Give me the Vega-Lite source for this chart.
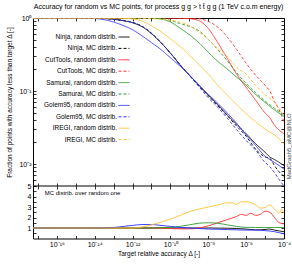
{
"$schema": "https://vega.github.io/schema/vega-lite/v6.json",
"background": "white",
"autosize": {"type": "none"},
"width": 251,
"height": 220.5,
"padding": {"left": 33, "top": 18, "right": 8, "bottom": 26.5},
"config": {
  "font": "Liberation Sans",
  "view": {"stroke": "black", "strokeWidth": 1},
  "axis": {"labelFontSize": 7, "titleFontSize": 6.5, "titleFontWeight": "normal", "titleColor": "black", "labelColor": "black", "tickColor": "black", "domainColor": "black", "grid": false, "tickSize": -3, "tickWidth": 0.8, "labelPadding": 5, "labelOverlap": false, "labelFlush": false, "domain": false}
},
"title": {"text": "Accuracy for random vs MC points, for process g g > t t̄ g g (1 TeV c.o.m energy)", "fontSize": 7, "fontWeight": "normal", "color": "black", "offset": 4},
"datasets": {
  "top": [
    {"s":"Ninja, random distrib.","x":5.5e-18,"y":1},{"s":"Ninja, random distrib.","x":1e-14,"y":1},{"s":"Ninja, random distrib.","x":1e-13,"y":0.96},{"s":"Ninja, random distrib.","x":3.16e-13,"y":0.92},{"s":"Ninja, random distrib.","x":1e-12,"y":0.86},{"s":"Ninja, random distrib.","x":3.16e-12,"y":0.76},{"s":"Ninja, random distrib.","x":1e-11,"y":0.61},{"s":"Ninja, random distrib.","x":3.16e-11,"y":0.46},{"s":"Ninja, random distrib.","x":1e-10,"y":0.33},{"s":"Ninja, random distrib.","x":3.16e-10,"y":0.23},{"s":"Ninja, random distrib.","x":1e-9,"y":0.165},{"s":"Ninja, random distrib.","x":3.16e-9,"y":0.12},{"s":"Ninja, random distrib.","x":1e-8,"y":0.088},{"s":"Ninja, random distrib.","x":3.16e-8,"y":0.065},{"s":"Ninja, random distrib.","x":1e-7,"y":0.047},{"s":"Ninja, random distrib.","x":3.16e-7,"y":0.035},{"s":"Ninja, random distrib.","x":1e-6,"y":0.026},{"s":"Ninja, random distrib.","x":3.16e-6,"y":0.019},{"s":"Ninja, random distrib.","x":1e-5,"y":0.0145},{"s":"Ninja, random distrib.","x":1.78e-5,"y":0.0125},{"s":"Ninja, random distrib.","x":3.16e-5,"y":0.0115},{"s":"Ninja, random distrib.","x":5.6e-5,"y":0.0105},{"s":"Ninja, random distrib.","x":1e-4,"y":0.0095},
    {"s":"Ninja, MC distrib.","x":5.5e-18,"y":1},{"s":"Ninja, MC distrib.","x":1e-14,"y":1},{"s":"Ninja, MC distrib.","x":1e-13,"y":0.96},{"s":"Ninja, MC distrib.","x":3.16e-13,"y":0.93},{"s":"Ninja, MC distrib.","x":1e-12,"y":0.87},{"s":"Ninja, MC distrib.","x":3.16e-12,"y":0.77},{"s":"Ninja, MC distrib.","x":1e-11,"y":0.62},{"s":"Ninja, MC distrib.","x":3.16e-11,"y":0.46},{"s":"Ninja, MC distrib.","x":1e-10,"y":0.33},{"s":"Ninja, MC distrib.","x":3.16e-10,"y":0.23},{"s":"Ninja, MC distrib.","x":1e-9,"y":0.163},{"s":"Ninja, MC distrib.","x":3.16e-9,"y":0.118},{"s":"Ninja, MC distrib.","x":1e-8,"y":0.086},{"s":"Ninja, MC distrib.","x":3.16e-8,"y":0.063},{"s":"Ninja, MC distrib.","x":1e-7,"y":0.046},{"s":"Ninja, MC distrib.","x":3.16e-7,"y":0.033},{"s":"Ninja, MC distrib.","x":1e-6,"y":0.024},{"s":"Ninja, MC distrib.","x":3.16e-6,"y":0.016},{"s":"Ninja, MC distrib.","x":1e-5,"y":0.0125},{"s":"Ninja, MC distrib.","x":1.78e-5,"y":0.012},{"s":"Ninja, MC distrib.","x":3.16e-5,"y":0.0095},{"s":"Ninja, MC distrib.","x":5.6e-5,"y":0.0078},{"s":"Ninja, MC distrib.","x":1e-4,"y":0.0068},
    {"s":"CutTools, random distrib.","x":5.5e-18,"y":1},{"s":"CutTools, random distrib.","x":1e-10,"y":1},{"s":"CutTools, random distrib.","x":3.16e-10,"y":0.995},{"s":"CutTools, random distrib.","x":1e-9,"y":0.98},{"s":"CutTools, random distrib.","x":3.16e-9,"y":0.92},{"s":"CutTools, random distrib.","x":1e-8,"y":0.72},{"s":"CutTools, random distrib.","x":3.16e-8,"y":0.46},{"s":"CutTools, random distrib.","x":1e-7,"y":0.28},{"s":"CutTools, random distrib.","x":3.16e-7,"y":0.17},{"s":"CutTools, random distrib.","x":1e-6,"y":0.112},{"s":"CutTools, random distrib.","x":3.16e-6,"y":0.075},{"s":"CutTools, random distrib.","x":1e-5,"y":0.05},{"s":"CutTools, random distrib.","x":1.78e-5,"y":0.043},{"s":"CutTools, random distrib.","x":3.16e-5,"y":0.034},{"s":"CutTools, random distrib.","x":5.6e-5,"y":0.029},{"s":"CutTools, random distrib.","x":1e-4,"y":0.026},
    {"s":"CutTools, MC distrib.","x":5.5e-18,"y":1},{"s":"CutTools, MC distrib.","x":1e-9,"y":1},{"s":"CutTools, MC distrib.","x":3.16e-9,"y":0.98},{"s":"CutTools, MC distrib.","x":1e-8,"y":0.9},{"s":"CutTools, MC distrib.","x":3.16e-8,"y":0.75},{"s":"CutTools, MC distrib.","x":1e-7,"y":0.55},{"s":"CutTools, MC distrib.","x":3.16e-7,"y":0.37},{"s":"CutTools, MC distrib.","x":1e-6,"y":0.24},{"s":"CutTools, MC distrib.","x":3.16e-6,"y":0.165},{"s":"CutTools, MC distrib.","x":1e-5,"y":0.12},{"s":"CutTools, MC distrib.","x":1.78e-5,"y":0.1},{"s":"CutTools, MC distrib.","x":3.16e-5,"y":0.072},{"s":"CutTools, MC distrib.","x":5.6e-5,"y":0.055},{"s":"CutTools, MC distrib.","x":1e-4,"y":0.038},
    {"s":"Samurai, random distrib.","x":5.5e-18,"y":1},{"s":"Samurai, random distrib.","x":3.16e-12,"y":1},{"s":"Samurai, random distrib.","x":1e-11,"y":0.995},{"s":"Samurai, random distrib.","x":3.16e-11,"y":0.97},{"s":"Samurai, random distrib.","x":1e-10,"y":0.88},{"s":"Samurai, random distrib.","x":3.16e-10,"y":0.73},{"s":"Samurai, random distrib.","x":1e-9,"y":0.59},{"s":"Samurai, random distrib.","x":3.16e-9,"y":0.46},{"s":"Samurai, random distrib.","x":1e-8,"y":0.34},{"s":"Samurai, random distrib.","x":3.16e-8,"y":0.255},{"s":"Samurai, random distrib.","x":1e-7,"y":0.2},{"s":"Samurai, random distrib.","x":3.16e-7,"y":0.155},{"s":"Samurai, random distrib.","x":1e-6,"y":0.12},{"s":"Samurai, random distrib.","x":3.16e-6,"y":0.09},{"s":"Samurai, random distrib.","x":1e-5,"y":0.07},{"s":"Samurai, random distrib.","x":3.16e-5,"y":0.055},{"s":"Samurai, random distrib.","x":1e-4,"y":0.045},
    {"s":"Samurai, MC distrib.","x":5.5e-18,"y":1},{"s":"Samurai, MC distrib.","x":1e-11,"y":1},{"s":"Samurai, MC distrib.","x":3.16e-11,"y":0.99},{"s":"Samurai, MC distrib.","x":1e-10,"y":0.93},{"s":"Samurai, MC distrib.","x":3.16e-10,"y":0.84},{"s":"Samurai, MC distrib.","x":1e-9,"y":0.77},{"s":"Samurai, MC distrib.","x":3.16e-9,"y":0.67},{"s":"Samurai, MC distrib.","x":1e-8,"y":0.51},{"s":"Samurai, MC distrib.","x":3.16e-8,"y":0.37},{"s":"Samurai, MC distrib.","x":1e-7,"y":0.26},{"s":"Samurai, MC distrib.","x":3.16e-7,"y":0.178},{"s":"Samurai, MC distrib.","x":1e-6,"y":0.127},{"s":"Samurai, MC distrib.","x":3.16e-6,"y":0.095},{"s":"Samurai, MC distrib.","x":1e-5,"y":0.073},{"s":"Samurai, MC distrib.","x":3.16e-5,"y":0.058},{"s":"Samurai, MC distrib.","x":1e-4,"y":0.047},
    {"s":"Golem95, random distrib.","x":5.5e-18,"y":1},{"s":"Golem95, random distrib.","x":3.16e-15,"y":1},{"s":"Golem95, random distrib.","x":1e-14,"y":0.985},{"s":"Golem95, random distrib.","x":3.16e-14,"y":0.95},{"s":"Golem95, random distrib.","x":1e-13,"y":0.88},{"s":"Golem95, random distrib.","x":3.16e-13,"y":0.79},{"s":"Golem95, random distrib.","x":1e-12,"y":0.69},{"s":"Golem95, random distrib.","x":3.16e-12,"y":0.57},{"s":"Golem95, random distrib.","x":1e-11,"y":0.46},{"s":"Golem95, random distrib.","x":3.16e-11,"y":0.37},{"s":"Golem95, random distrib.","x":1e-10,"y":0.285},{"s":"Golem95, random distrib.","x":3.16e-10,"y":0.22},{"s":"Golem95, random distrib.","x":1e-9,"y":0.165},{"s":"Golem95, random distrib.","x":3.16e-9,"y":0.122},{"s":"Golem95, random distrib.","x":1e-8,"y":0.09},{"s":"Golem95, random distrib.","x":3.16e-8,"y":0.068},{"s":"Golem95, random distrib.","x":1e-7,"y":0.05},{"s":"Golem95, random distrib.","x":3.16e-7,"y":0.036},{"s":"Golem95, random distrib.","x":1e-6,"y":0.025},{"s":"Golem95, random distrib.","x":3.16e-6,"y":0.018},{"s":"Golem95, random distrib.","x":1e-5,"y":0.0128},{"s":"Golem95, random distrib.","x":1.78e-5,"y":0.0115},{"s":"Golem95, random distrib.","x":3.16e-5,"y":0.0105},{"s":"Golem95, random distrib.","x":5.6e-5,"y":0.0095},{"s":"Golem95, random distrib.","x":1e-4,"y":0.0085},
    {"s":"Golem95, MC distrib.","x":5.5e-18,"y":1},{"s":"Golem95, MC distrib.","x":1e-14,"y":1},{"s":"Golem95, MC distrib.","x":1e-13,"y":0.96},{"s":"Golem95, MC distrib.","x":3.16e-13,"y":0.92},{"s":"Golem95, MC distrib.","x":1e-12,"y":0.87},{"s":"Golem95, MC distrib.","x":3.16e-12,"y":0.77},{"s":"Golem95, MC distrib.","x":1e-11,"y":0.61},{"s":"Golem95, MC distrib.","x":3.16e-11,"y":0.46},{"s":"Golem95, MC distrib.","x":1e-10,"y":0.33},{"s":"Golem95, MC distrib.","x":3.16e-10,"y":0.23},{"s":"Golem95, MC distrib.","x":1e-9,"y":0.165},{"s":"Golem95, MC distrib.","x":3.16e-9,"y":0.115},{"s":"Golem95, MC distrib.","x":1e-8,"y":0.081},{"s":"Golem95, MC distrib.","x":3.16e-8,"y":0.06},{"s":"Golem95, MC distrib.","x":1e-7,"y":0.0425},{"s":"Golem95, MC distrib.","x":3.16e-7,"y":0.0295},{"s":"Golem95, MC distrib.","x":1e-6,"y":0.021},{"s":"Golem95, MC distrib.","x":3.16e-6,"y":0.0155},{"s":"Golem95, MC distrib.","x":1e-5,"y":0.0105},{"s":"Golem95, MC distrib.","x":1.78e-5,"y":0.0092},{"s":"Golem95, MC distrib.","x":3.16e-5,"y":0.0076},{"s":"Golem95, MC distrib.","x":5.6e-5,"y":0.0061},{"s":"Golem95, MC distrib.","x":1e-4,"y":0.005},
    {"s":"IREGI, random distrib.","x":5.5e-18,"y":1},{"s":"IREGI, random distrib.","x":1e-13,"y":1},{"s":"IREGI, random distrib.","x":3.16e-13,"y":0.995},{"s":"IREGI, random distrib.","x":1e-12,"y":0.97},{"s":"IREGI, random distrib.","x":3.16e-12,"y":0.91},{"s":"IREGI, random distrib.","x":1e-11,"y":0.78},{"s":"IREGI, random distrib.","x":3.16e-11,"y":0.65},{"s":"IREGI, random distrib.","x":1e-10,"y":0.52},{"s":"IREGI, random distrib.","x":3.16e-10,"y":0.41},{"s":"IREGI, random distrib.","x":1e-9,"y":0.31},{"s":"IREGI, random distrib.","x":3.16e-9,"y":0.23},{"s":"IREGI, random distrib.","x":1e-8,"y":0.17},{"s":"IREGI, random distrib.","x":3.16e-8,"y":0.12},{"s":"IREGI, random distrib.","x":1e-7,"y":0.088},{"s":"IREGI, random distrib.","x":3.16e-7,"y":0.065},{"s":"IREGI, random distrib.","x":1e-6,"y":0.049},{"s":"IREGI, random distrib.","x":3.16e-6,"y":0.038},{"s":"IREGI, random distrib.","x":1e-5,"y":0.03},{"s":"IREGI, random distrib.","x":3.16e-5,"y":0.025},{"s":"IREGI, random distrib.","x":1e-4,"y":0.019},
    {"s":"IREGI, MC distrib.","x":5.5e-18,"y":1},{"s":"IREGI, MC distrib.","x":1e-12,"y":1},{"s":"IREGI, MC distrib.","x":3.16e-12,"y":0.995},{"s":"IREGI, MC distrib.","x":1e-11,"y":0.98},{"s":"IREGI, MC distrib.","x":3.16e-11,"y":0.96},{"s":"IREGI, MC distrib.","x":1e-10,"y":0.93},{"s":"IREGI, MC distrib.","x":3.16e-10,"y":0.88},{"s":"IREGI, MC distrib.","x":1e-9,"y":0.79},{"s":"IREGI, MC distrib.","x":3.16e-9,"y":0.64},{"s":"IREGI, MC distrib.","x":1e-8,"y":0.51},{"s":"IREGI, MC distrib.","x":3.16e-8,"y":0.38},{"s":"IREGI, MC distrib.","x":1e-7,"y":0.3},{"s":"IREGI, MC distrib.","x":3.16e-7,"y":0.21},{"s":"IREGI, MC distrib.","x":1e-6,"y":0.17},{"s":"IREGI, MC distrib.","x":3.16e-6,"y":0.12},{"s":"IREGI, MC distrib.","x":1e-5,"y":0.089},{"s":"IREGI, MC distrib.","x":3.16e-5,"y":0.07},{"s":"IREGI, MC distrib.","x":1e-4,"y":0.046}
  ],
  "ratio": [
    {"c":"Ninja","x":5.5e-18,"r":1},{"c":"Ninja","x":1e-8,"r":1},{"c":"Ninja","x":1e-7,"r":0.98},{"c":"Ninja","x":3.16e-7,"r":0.95},{"c":"Ninja","x":1e-6,"r":0.9},{"c":"Ninja","x":3.16e-6,"r":0.82},{"c":"Ninja","x":1e-5,"r":0.86},{"c":"Ninja","x":1.78e-5,"r":0.9},{"c":"Ninja","x":3.16e-5,"r":0.8},{"c":"Ninja","x":5.6e-5,"r":0.72},{"c":"Ninja","x":1e-4,"r":0.65},
    {"c":"CutTools","x":5.5e-18,"r":1},{"c":"CutTools","x":1e-11,"r":1},{"c":"CutTools","x":1e-10,"r":0.95},{"c":"CutTools","x":3.16e-10,"r":0.92},{"c":"CutTools","x":1e-9,"r":0.92},{"c":"CutTools","x":3.16e-9,"r":1},{"c":"CutTools","x":1e-8,"r":1.2},{"c":"CutTools","x":3.16e-8,"r":1.5},{"c":"CutTools","x":1e-7,"r":1.8},{"c":"CutTools","x":3.16e-7,"r":2.1},{"c":"CutTools","x":5.6e-7,"r":2.3},{"c":"CutTools","x":1e-6,"r":2.2},{"c":"CutTools","x":1.78e-6,"r":2.4},{"c":"CutTools","x":3.16e-6,"r":2.2},{"c":"CutTools","x":5.6e-6,"r":2.3},{"c":"CutTools","x":1e-5,"r":2.6},{"c":"CutTools","x":1.78e-5,"r":2.5},{"c":"CutTools","x":3.16e-5,"r":2.0},{"c":"CutTools","x":5.6e-5,"r":1.5},{"c":"CutTools","x":1e-4,"r":1.4},
    {"c":"Samurai","x":5.5e-18,"r":1},{"c":"Samurai","x":1e-11,"r":1},{"c":"Samurai","x":3.16e-11,"r":1.02},{"c":"Samurai","x":1e-10,"r":1.05},{"c":"Samurai","x":3.16e-10,"r":1.15},{"c":"Samurai","x":1e-9,"r":1.3},{"c":"Samurai","x":3.16e-9,"r":1.45},{"c":"Samurai","x":1e-8,"r":1.5},{"c":"Samurai","x":3.16e-8,"r":1.45},{"c":"Samurai","x":1e-7,"r":1.3},{"c":"Samurai","x":3.16e-7,"r":1.15},{"c":"Samurai","x":1e-6,"r":1.06},{"c":"Samurai","x":3.16e-6,"r":1.05},{"c":"Samurai","x":1e-5,"r":1.05},{"c":"Samurai","x":3.16e-5,"r":1.05},{"c":"Samurai","x":1e-4,"r":1.05},
    {"c":"Golem95","x":5.5e-18,"r":1},{"c":"Golem95","x":1e-14,"r":1},{"c":"Golem95","x":1e-13,"r":1.05},{"c":"Golem95","x":3.16e-13,"r":1.15},{"c":"Golem95","x":1e-12,"r":1.25},{"c":"Golem95","x":3.16e-12,"r":1.33},{"c":"Golem95","x":1e-11,"r":1.33},{"c":"Golem95","x":3.16e-11,"r":1.25},{"c":"Golem95","x":1e-10,"r":1.15},{"c":"Golem95","x":3.16e-10,"r":1.05},{"c":"Golem95","x":1e-9,"r":1},{"c":"Golem95","x":3.16e-9,"r":0.95},{"c":"Golem95","x":1e-8,"r":0.9},{"c":"Golem95","x":3.16e-8,"r":0.88},{"c":"Golem95","x":1e-7,"r":0.85},{"c":"Golem95","x":3.16e-7,"r":0.82},{"c":"Golem95","x":1e-6,"r":0.8},{"c":"Golem95","x":3.16e-6,"r":0.8},{"c":"Golem95","x":1e-5,"r":0.75},{"c":"Golem95","x":3.16e-5,"r":0.65},{"c":"Golem95","x":5.6e-5,"r":0.55},{"c":"Golem95","x":1e-4,"r":0.45},
    {"c":"IREGI","x":5.5e-18,"r":1},{"c":"IREGI","x":1e-12,"r":1},{"c":"IREGI","x":3.16e-12,"r":1.1},{"c":"IREGI","x":1e-11,"r":1.3},{"c":"IREGI","x":3.16e-11,"r":1.55},{"c":"IREGI","x":1e-10,"r":1.85},{"c":"IREGI","x":3.16e-10,"r":2.2},{"c":"IREGI","x":1e-9,"r":2.55},{"c":"IREGI","x":3.16e-9,"r":2.8},{"c":"IREGI","x":1e-8,"r":3.0},{"c":"IREGI","x":3.16e-8,"r":3.2},{"c":"IREGI","x":1e-7,"r":3.4},{"c":"IREGI","x":1.78e-7,"r":3.4},{"c":"IREGI","x":3.16e-7,"r":3.25},{"c":"IREGI","x":5.6e-7,"r":3.5},{"c":"IREGI","x":1e-6,"r":3.5},{"c":"IREGI","x":3.16e-6,"r":3.2},{"c":"IREGI","x":5.6e-6,"r":2.9},{"c":"IREGI","x":1e-5,"r":2.95},{"c":"IREGI","x":1.78e-5,"r":3.2},{"c":"IREGI","x":3.16e-5,"r":2.8},{"c":"IREGI","x":5.6e-5,"r":2.4},{"c":"IREGI","x":7.5e-5,"r":2.8},{"c":"IREGI","x":1e-4,"r":2.4}
  ],
  "notes": [{"x":1e-4,"y":0.0175,"t":"MadGraph5_aMC@NLO"}],
  "ratioNote": [{"x":2.3e-17,"r":4.35,"t":"MC distrib. over random one"}]
},
"layer": [
  {
    "layer": [
      {
        "data": {"name": "top"},
        "mark": {"type": "line", "strokeWidth": 0.9, "clip": true, "interpolate": "monotone"},
        "encoding": {
          "x": {"field": "x", "type": "quantitative", "scale": {"type": "log", "domain": [5.5e-18, 1e-4], "nice": false},
                "axis": {"orient": "top", "values": [1e-17,1e-16,1e-15,1e-14,1e-13,1e-12,1e-11,1e-10,1e-9,1e-8,1e-7,1e-6,1e-5,1e-4], "labels": false, "title": null, "maxExtent": 0, "minExtent": 0}},
          "y": {"field": "y", "type": "quantitative", "scale": {"type": "log", "domain": [0.005, 1], "nice": false, "range": [168, 0]},
                "axis": {"orient": "left", "values": [0.005,0.006,0.007,0.008,0.009,0.01,0.02,0.03,0.04,0.05,0.06,0.07,0.08,0.09,0.1,0.2,0.3,0.4,0.5,0.6,0.7,0.8,0.9,1],
                         "labelExpr": "datum.value==1?'10⁰':datum.value==0.1?'10⁻¹':datum.value==0.01?'10⁻²':''",
                         "title": "Fraction of points with accuracy less than target Δ [-]", "titlePadding": 6}},
          "color": {"field": "s", "type": "nominal",
                    "scale": {"domain": ["Ninja, random distrib.","Ninja, MC distrib.","CutTools, random distrib.","CutTools, MC distrib.","Samurai, random distrib.","Samurai, MC distrib.","Golem95, random distrib.","Golem95, MC distrib.","IREGI, random distrib.","IREGI, MC distrib."],
                              "range": ["#000000","#000000","#ff3030","#ff3030","#2e9a2e","#2e9a2e","#3030ff","#3030ff","#ffc233","#ffc233"]},
                    "legend": {"title": null, "orient": "none", "legendX": 82, "legendY": 13, "symbolType": "stroke", "symbolSize": 121, "symbolStrokeWidth": 1, "labelFontSize": 6.5, "labelAlign": "right", "labelOffset": -13, "symbolOffset": 3, "rowPadding": 1.4, "labelColor": "black", "padding": 0}},
          "strokeDash": {"field": "s", "type": "nominal",
                    "scale": {"domain": ["Ninja, random distrib.","Ninja, MC distrib.","CutTools, random distrib.","CutTools, MC distrib.","Samurai, random distrib.","Samurai, MC distrib.","Golem95, random distrib.","Golem95, MC distrib.","IREGI, random distrib.","IREGI, MC distrib."],
                              "range": [[1,0],[3,2],[1,0],[3,2],[1,0],[3,2],[1,0],[3,2],[1,0],[3,2]]},
                    "legend": {"title": null, "orient": "none", "legendX": 82, "legendY": 13, "symbolType": "stroke", "symbolSize": 121, "symbolStrokeWidth": 1, "labelFontSize": 6.5, "labelAlign": "right", "labelOffset": -13, "symbolOffset": 3, "rowPadding": 1.4, "labelColor": "black", "padding": 0}}
        }
      },
      {
        "data": {"name": "notes"},
        "mark": {"type": "text", "angle": 270, "dy": 5, "fontSize": 6, "color": "#444444", "align": "center", "baseline": "middle"},
        "encoding": {
          "x": {"field": "x", "type": "quantitative", "axis": {"orient": "bottom", "offset": -52.5, "values": [1e-17,1e-16,1e-15,1e-14,1e-13,1e-12,1e-11,1e-10,1e-9,1e-8,1e-7,1e-6,1e-5,1e-4], "labels": false, "title": null}},
          "y": {"field": "y", "type": "quantitative", "axis": {"orient": "right", "values": [0.005,0.006,0.007,0.008,0.009,0.01,0.02,0.03,0.04,0.05,0.06,0.07,0.08,0.09,0.1,0.2,0.3,0.4,0.5,0.6,0.7,0.8,0.9,1], "labels": false, "title": null}},
          "text": {"field": "t"}
        }
      }
    ],
    "resolve": {"axis": {"x": "independent", "y": "independent"}}
  },
  {
    "layer": [
      {
        "data": {"name": "ratio"},
        "mark": {"type": "line", "strokeWidth": 0.9, "clip": true, "interpolate": "monotone"},
        "encoding": {
          "x": {"field": "x", "type": "quantitative",
                "axis": {"orient": "bottom", "values": [1e-17,1e-16,1e-15,1e-14,1e-13,1e-12,1e-11,1e-10,1e-9,1e-8,1e-7,1e-6,1e-5,1e-4],
                         "labelExpr": "round(log(datum.value)/LN10)==-16?'10⁻¹⁶':round(log(datum.value)/LN10)==-14?'10⁻¹⁴':round(log(datum.value)/LN10)==-12?'10⁻¹²':round(log(datum.value)/LN10)==-10?'10⁻¹⁰':round(log(datum.value)/LN10)==-8?'10⁻⁸':round(log(datum.value)/LN10)==-6?'10⁻⁶':round(log(datum.value)/LN10)==-4?'10⁻⁴':''",
                         "title": "Target relative accuracy Δ [-]", "titlePadding": 3}},
          "y": {"field": "r", "type": "quantitative", "scale": {"domain": [0, 5], "nice": false, "range": [220.5, 168]},
                "axis": {"orient": "left", "values": [0.5,1,1.5,2,2.5,3,3.5,4,4.5,5], "labelExpr": "datum.value==1?'1':datum.value==2?'2':datum.value==3?'3':datum.value==4?'4':datum.value==5?'5':''", "title": null}},
          "color": {"field": "c", "type": "nominal",
                    "scale": {"domain": ["Ninja","CutTools","Samurai","Golem95","IREGI"], "range": ["#000000","#ff3030","#2e9a2e","#3030ff","#ffc233"]},
                    "legend": null}
        }
      },
      {
        "data": {"name": "ratioNote"},
        "mark": {"type": "text", "fontSize": 6, "color": "black", "align": "left", "baseline": "middle"},
        "encoding": {
          "x": {"field": "x", "type": "quantitative", "axis": {"orient": "top", "offset": -168, "values": [1e-17,1e-16,1e-15,1e-14,1e-13,1e-12,1e-11,1e-10,1e-9,1e-8,1e-7,1e-6,1e-5,1e-4], "labels": false, "title": null}},
          "y": {"field": "r", "type": "quantitative", "axis": {"orient": "right", "values": [0.5,1,1.5,2,2.5,3,3.5,4,4.5,5], "labels": false, "title": null}},
          "text": {"field": "t"}
        }
      },
      {
        "data": {"values": [{"v": 5}]},
        "mark": {"type": "rule", "color": "black", "strokeWidth": 1},
        "encoding": {"y": {"field": "v", "type": "quantitative", "axis": null}}
      }
    ],
    "resolve": {"axis": {"x": "independent", "y": "independent"}}
  }
],
"resolve": {"scale": {"y": "independent", "color": "independent", "strokeDash": "independent"}, "axis": {"x": "independent", "y": "independent"}}
}
